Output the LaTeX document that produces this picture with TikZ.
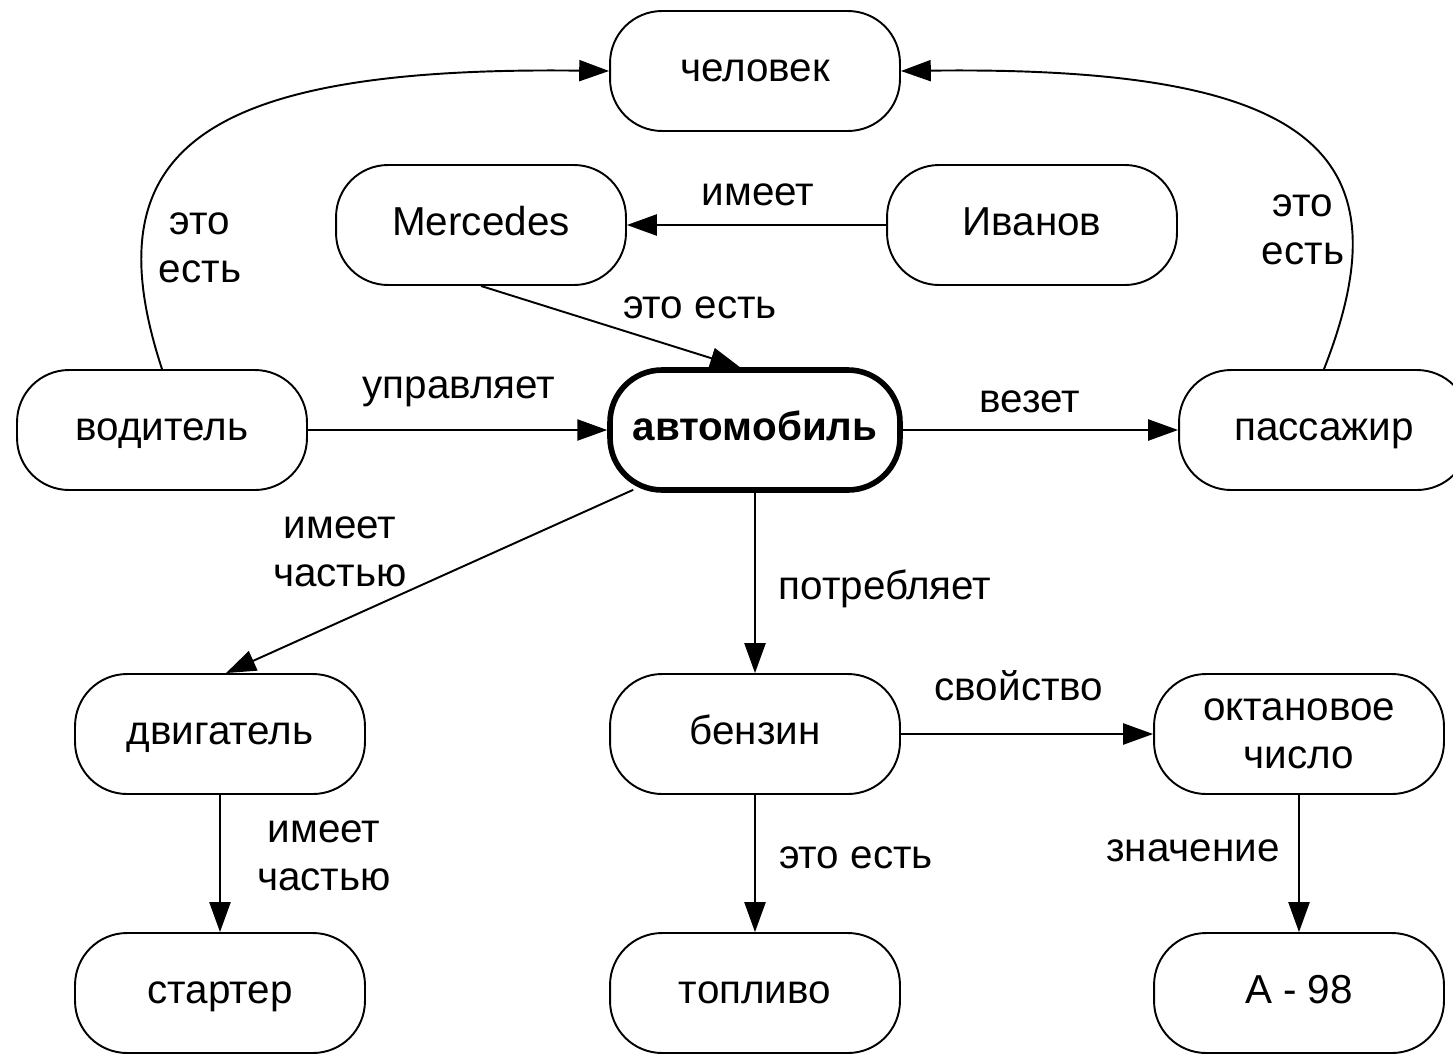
\documentclass[tikz,border=0pt]{standalone}
\usepackage{fontspec}
\setmainfont{Liberation Sans}
\usetikzlibrary{arrows.meta}
\begin{document}
\begin{tikzpicture}[x=0.02cm,y=-0.02cm,
  every node/.style={font=\fontsize{23}{27.5}\selectfont},
  box/.style={draw, line width=1.1pt, rounded corners=1.04cm, minimum width=5.8cm, minimum height=2.4cm, inner sep=0pt, align=center},
  mainbox/.style={box, line width=3.2pt, font=\fontsize{23}{27.5}\selectfont\bfseries},
  xh/.style={text height=11.9pt, text depth=0pt},
  lbl/.style={inner sep=0pt, align=center},
  conn/.style={line width=1.1pt, -{Triangle[length=17pt,width=12pt]}}
]
\useasboundingbox (0,0) rectangle (1453,1055);
\fill[white] (0,0) rectangle (1453,1055);

% nodes
\node[box,xh] (chel) at (755,71) {человек};
\node[box,xh] (merc) at (481,225) {Mercedes};
\node[box,xh] (ivan) at (1032,225) {Иванов};
\node[box,xh] (vod) at (162,430) {водитель};
\node[mainbox,xh] (avto) at (755,430) {автомобиль};
\node[box,xh] (pass) at (1324,430) {пассажир};
\node[box,xh] (dvig) at (220,734) {двигатель};
\node[box,xh] (benz) at (755,734) {бензин};
\node[box] (okt) at (1299,734) {октановое\\число};
\node[box,xh] (start) at (220,993) {стартер};
\node[box,xh] (topl) at (755,993) {топливо};
\node[box,xh] (a98) at (1299,993) {А - 98};

% connectors
\draw[conn] (vod.north) .. controls (90,150) and (200,66) .. (chel.west);
\draw[conn] (pass.north) .. controls (1410,150) and (1310,66) .. (chel.east);
\draw[conn] (ivan.west) -- (merc.east);
\draw[conn] (merc.south) -- ([xshift=-0.3cm]avto.north);
\draw[conn] (vod.east) -- (avto.west);
\draw[conn] (avto.east) -- (pass.west);
\draw[conn] ([xshift=0.52cm,yshift=0.06cm]avto.south west) -- ([xshift=0.12cm]dvig.north);
\draw[conn] (avto.south) -- (benz.north);
\draw[conn] (dvig.south) -- (start.north);
\draw[conn] (benz.east) -- (okt.west);
\draw[conn] (benz.south) -- (topl.north);
\draw[conn] (okt.south) -- (a98.north);

% labels
\node[lbl,xh] (limeet) at (758,195) {имеет};
\node[lbl,xh] (leto1) at (700,308) {это есть};
\node[lbl] (letoL) at (200,248) {это\\есть};
\node[lbl] (letoR) at (1303,230) {это\\есть};
\node[lbl,xh] (lupr) at (459,388) {управляет};
\node[lbl,xh] (lvez) at (1030,402) {везет};
\node[lbl] (lich1) at (340,552) {имеет\\частью};
\node[lbl,xh] (lpotr) at (885,589) {потребляет};
\node[lbl,xh] (lsvo) at (1019,690) {свойство};
\node[lbl] (lich2) at (324,856) {имеет\\частью};
\node[lbl,xh] (leto2) at (856,858) {это есть};
\node[lbl,xh] (lzn) at (1193,851) {значение};
\end{tikzpicture}
\end{document}
